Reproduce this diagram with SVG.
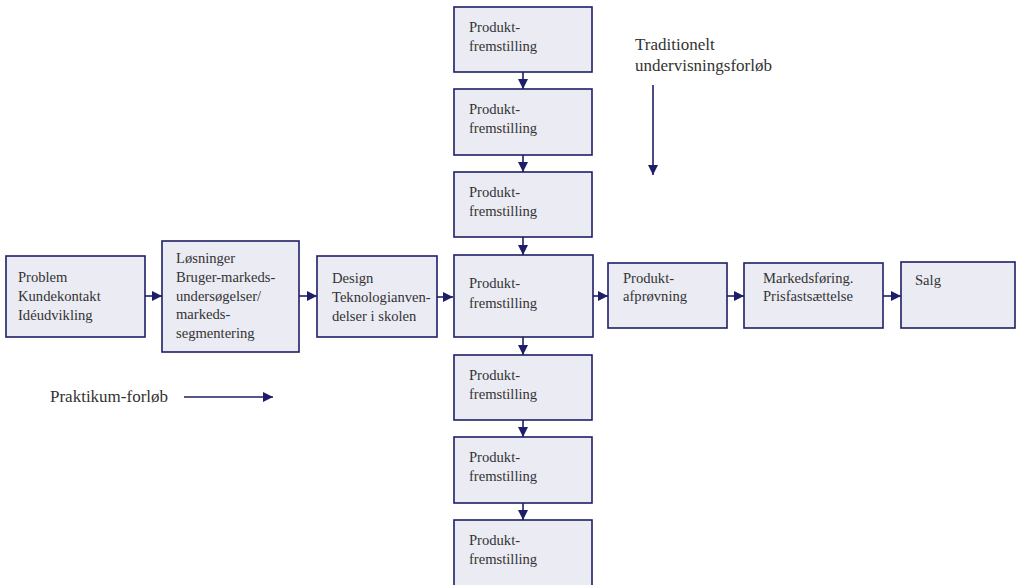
<svg xmlns="http://www.w3.org/2000/svg" width="1021" height="585" viewBox="0 0 1021 585">
<style>
.box{fill:#ebebf3;stroke:#1e1e68;stroke-width:1.6}
.t{font-family:"Liberation Serif","Times New Roman",serif;font-size:14.6px;fill:#333333}
.l{font-family:"Liberation Serif","Times New Roman",serif;font-size:17px;fill:#333333}
.c{stroke:#1e1e68;stroke-width:1.6;fill:none;marker-end:url(#ah)}
</style>
<defs>
<marker id="ah" markerUnits="userSpaceOnUse" markerWidth="10" markerHeight="10" refX="10" refY="5" orient="auto">
<path d="M0,0 L10,5 L0,10 z" fill="#1e1e68"/>
</marker>
</defs>
<rect width="1021" height="585" fill="#ffffff"/>
<g id="connectors">
<line class="c" x1="145" y1="296" x2="162" y2="296"/>
<line class="c" x1="299" y1="296" x2="317" y2="296"/>
<line class="c" x1="437" y1="297" x2="453" y2="297"/>
<line class="c" x1="593" y1="296" x2="608" y2="296"/>
<line class="c" x1="727" y1="296" x2="744" y2="296"/>
<line class="c" x1="883" y1="296" x2="901" y2="296"/>
<line class="c" x1="523" y1="72" x2="523" y2="89"/>
<line class="c" x1="523" y1="155" x2="523" y2="172"/>
<line class="c" x1="523" y1="237" x2="523" y2="255"/>
<line class="c" x1="523" y1="337" x2="523" y2="355"/>
<line class="c" x1="523" y1="420" x2="523" y2="437"/>
<line class="c" x1="523" y1="503" x2="523" y2="520"/>
<line class="c" x1="653" y1="85" x2="653" y2="175"/>
<line class="c" x1="184" y1="397" x2="273" y2="397"/>
</g>
<g id="n-problem"><rect class="box" x="6" y="256" width="139" height="81"/>
<text class="t" x="18" y="282">Problem</text><text class="t" x="18" y="301">Kundekontakt</text><text class="t" x="18" y="320">Idéudvikling</text></g>
<g id="n-losninger"><rect class="box" x="162" y="241" width="137" height="111"/>
<text class="t" x="176" y="263">Løsninger</text><text class="t" x="176" y="282">Bruger-markeds-</text><text class="t" x="176" y="301">undersøgelser/</text><text class="t" x="176" y="319">markeds-</text><text class="t" x="176" y="338">segmentering</text></g>
<g id="n-design"><rect class="box" x="317" y="256" width="120" height="81"/>
<text class="t" x="332" y="283">Design</text><text class="t" x="332" y="302">Teknologianven-</text><text class="t" x="332" y="321">delser i skolen</text></g>
<g id="n-p1"><rect class="box" x="454" y="7" width="138" height="65"/>
<text class="t" x="469" y="32">Produkt-</text><text class="t" x="469" y="51">fremstilling</text></g>
<g id="n-p2"><rect class="box" x="454" y="89" width="138" height="66"/>
<text class="t" x="469" y="114">Produkt-</text><text class="t" x="469" y="133">fremstilling</text></g>
<g id="n-p3"><rect class="box" x="454" y="172" width="138" height="65"/>
<text class="t" x="469" y="197">Produkt-</text><text class="t" x="469" y="216">fremstilling</text></g>
<g id="n-p4"><rect class="box" x="454" y="255" width="139" height="82"/>
<text class="t" x="469" y="288">Produkt-</text><text class="t" x="469" y="308">fremstilling</text></g>
<g id="n-p5"><rect class="box" x="454" y="355" width="138" height="65"/>
<text class="t" x="469" y="380">Produkt-</text><text class="t" x="469" y="399">fremstilling</text></g>
<g id="n-p6"><rect class="box" x="454" y="437" width="138" height="66"/>
<text class="t" x="469" y="462">Produkt-</text><text class="t" x="469" y="481">fremstilling</text></g>
<g id="n-p7"><rect class="box" x="454" y="520" width="138" height="66"/>
<text class="t" x="469" y="545">Produkt-</text><text class="t" x="469" y="564">fremstilling</text></g>
<g id="n-afprovning"><rect class="box" x="608" y="263" width="119" height="65"/>
<text class="t" x="623" y="283">Produkt-</text><text class="t" x="623" y="301">afprøvning</text></g>
<g id="n-markedsforing"><rect class="box" x="744" y="263" width="139" height="65"/>
<text class="t" x="763" y="283">Markedsføring.</text><text class="t" x="763" y="301">Prisfastsættelse</text></g>
<g id="n-salg"><rect class="box" x="901" y="262" width="114" height="66"/>
<text class="t" x="915" y="285">Salg</text></g>
<g id="n-traditionelt"><text class="l" x="635" y="50">Traditionelt</text><text class="l" x="635" y="71">undervisningsforløb</text></g>
<g id="n-praktikum"><text class="l" x="50" y="402">Praktikum-forløb</text></g>
</svg>
